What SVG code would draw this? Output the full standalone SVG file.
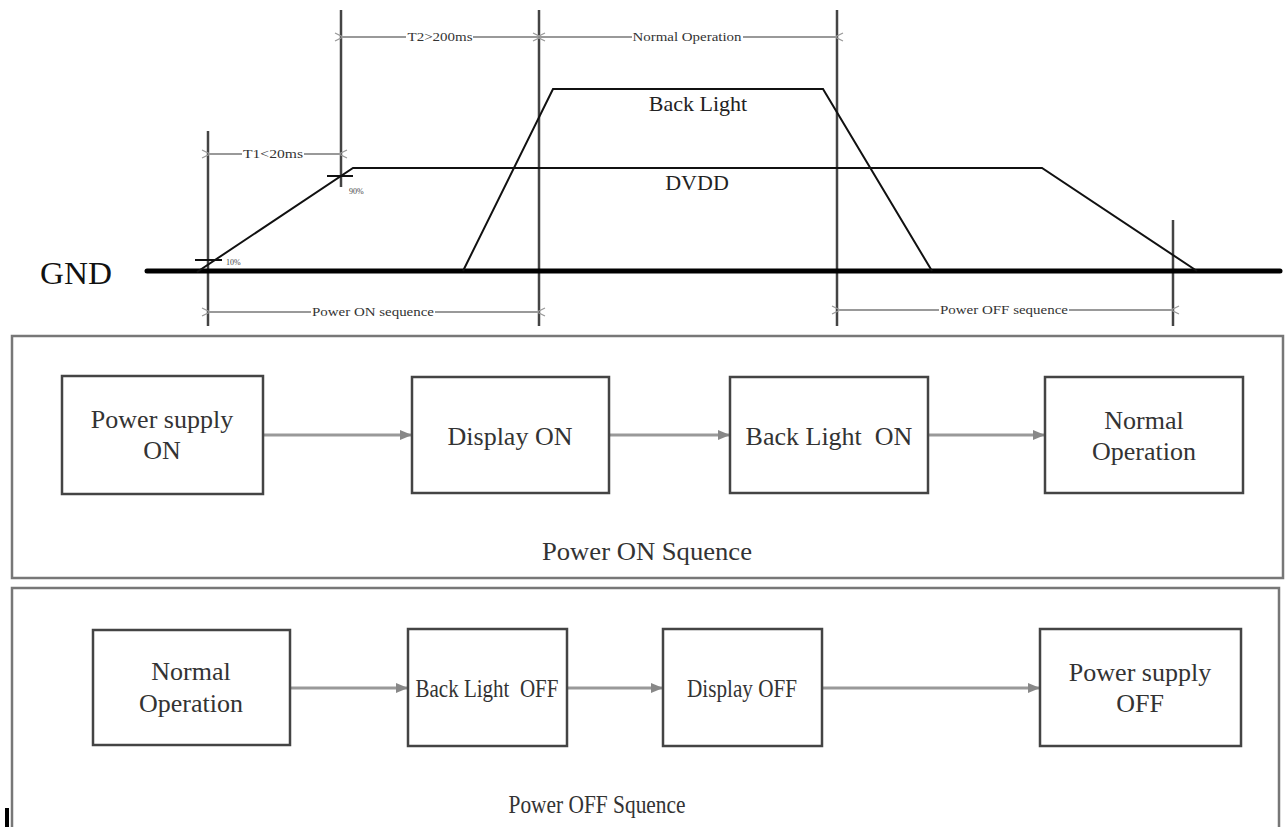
<svg xmlns="http://www.w3.org/2000/svg" width="1287" height="827" viewBox="0 0 1287 827">
<defs>
<style>
.vl{stroke:#444;stroke-width:2.5;fill:none}
.wf{stroke:#111;stroke-width:2;fill:none}
.dim{stroke:#999;stroke-width:2;fill:none;marker-start:url(#chev);marker-end:url(#chev)}
.dt{font-family:"Liberation Serif",serif;font-size:13px;fill:#333;text-anchor:middle}
.pct{font-family:"Liberation Serif",serif;font-size:8px;fill:#444}
.lbl{font-family:"Liberation Serif",serif;font-size:22px;fill:#222;text-anchor:middle}
.nt{font-family:"Liberation Serif",serif;font-size:26px;fill:#333;text-anchor:middle}
.node{fill:#fff;stroke:#444;stroke-width:2.5}
.frame{fill:none;stroke:#777;stroke-width:2.5}
.conn{stroke:#999;stroke-width:3;fill:none;marker-end:url(#tri)}
.wb{fill:#fff}
</style>
<marker id="chev" viewBox="0 0 10 10" refX="0" refY="5" markerWidth="10" markerHeight="10" markerUnits="userSpaceOnUse" orient="auto-start-reverse">
<path d="M8,1 L0,5 L8,9" fill="none" stroke="#999" stroke-width="1.2"/>
</marker>
<marker id="tri" viewBox="0 0 12 10" refX="11" refY="5" markerWidth="12" markerHeight="10" markerUnits="userSpaceOnUse" orient="auto">
<path d="M0,0 L12,5 L0,10 Z" fill="#888"/>
</marker>
</defs>
<rect width="1287" height="827" fill="#fff"/>

<g id="timing">
<line class="vl" x1="208" y1="131" x2="208" y2="326"/>
<line class="vl" x1="341" y1="10" x2="341" y2="187"/>
<line class="vl" x1="539" y1="10" x2="539" y2="326"/>
<line class="vl" x1="837" y1="10" x2="837" y2="326"/>
<line class="vl" x1="1173" y1="220" x2="1173" y2="326"/>
<line x1="147" y1="271" x2="1280" y2="271" stroke="#000" stroke-width="5" stroke-linecap="round"/>
<text x="40" y="284" font-family="Liberation Serif, serif" font-size="31" fill="#111" textLength="72" lengthAdjust="spacingAndGlyphs">GND</text>
<polyline class="wf" points="197,272 353,168 1042,168 1197,271"/>
<polyline class="wf" points="463,271 553,89 823,89 932,271"/>
<line x1="195" y1="260" x2="222" y2="260" stroke="#111" stroke-width="2"/>
<line x1="327" y1="176" x2="353" y2="176" stroke="#111" stroke-width="2"/>
<text class="pct" x="226" y="265">10%</text>
<text class="pct" x="349" y="194">90%</text>
<text class="lbl" x="698" y="111">Back Light</text>
<text class="lbl" x="697" y="190">DVDD</text>
</g>

<g id="dimensions">
<line class="dim" x1="210" y1="154" x2="339" y2="154"/>
<rect class="wb" x="242" y="147" width="62" height="14"/>
<text class="dt" x="273" y="158" textLength="60" lengthAdjust="spacingAndGlyphs">T1&lt;20ms</text>
<line class="dim" x1="343" y1="37" x2="537" y2="37"/>
<rect class="wb" x="406" y="30" width="67" height="14"/>
<text class="dt" x="440" y="41" textLength="65" lengthAdjust="spacingAndGlyphs">T2&gt;200ms</text>
<line class="dim" x1="541" y1="37" x2="835" y2="37"/>
<rect class="wb" x="632" y="30" width="111" height="14"/>
<text class="dt" x="687" y="41" textLength="109" lengthAdjust="spacingAndGlyphs">Normal Operation</text>
<line class="dim" x1="210" y1="312" x2="537" y2="312"/>
<rect class="wb" x="311" y="305" width="124" height="14"/>
<text class="dt" x="373" y="316" textLength="122" lengthAdjust="spacingAndGlyphs">Power ON sequence</text>
<line class="dim" x1="840" y1="310" x2="1171" y2="310"/>
<rect class="wb" x="939" y="303" width="130" height="14"/>
<text class="dt" x="1004" y="314" textLength="128" lengthAdjust="spacingAndGlyphs">Power OFF sequence</text>
</g>

<g id="frame-on">
<rect class="frame" x="12" y="336" width="1271" height="242"/>
<text class="nt" x="647" y="560" textLength="210" lengthAdjust="spacingAndGlyphs">Power ON Squence</text>
</g>
<g id="frame-off">
<path class="frame" d="M12,827 L12,588 L1279,588 L1279,827"/>
<text class="nt" x="597" y="813" textLength="177" lengthAdjust="spacingAndGlyphs">Power OFF Squence</text>
<rect x="5" y="808" width="4" height="19" fill="#000"/>
</g>

<g id="connectors">
<line class="conn" x1="263" y1="435" x2="411" y2="435"/>
<line class="conn" x1="609" y1="435" x2="729" y2="435"/>
<line class="conn" x1="928" y1="435" x2="1044" y2="435"/>
<line class="conn" x1="290" y1="688" x2="407" y2="688"/>
<line class="conn" x1="567" y1="688" x2="662" y2="688"/>
<line class="conn" x1="822" y1="688" x2="1039" y2="688"/>
</g>

<g id="n-power-on">
<rect class="node" x="62" y="376" width="201" height="118"/>
<text class="nt" x="162" y="428">Power supply</text>
<text class="nt" x="162" y="459">ON</text>
</g>
<g id="n-display-on">
<rect class="node" x="412" y="377" width="197" height="116"/>
<text class="nt" x="510" y="445">Display ON</text>
</g>
<g id="n-backlight-on">
<rect class="node" x="730" y="377" width="198" height="116"/>
<text class="nt" x="829" y="445" xml:space="preserve">Back Light  ON</text>
</g>
<g id="n-normal-on">
<rect class="node" x="1045" y="377" width="198" height="116"/>
<text class="nt" x="1144" y="429">Normal</text>
<text class="nt" x="1144" y="460">Operation</text>
</g>

<g id="n-normal-off">
<rect class="node" x="93" y="630" width="197" height="115"/>
<text class="nt" x="191" y="680">Normal</text>
<text class="nt" x="191" y="712">Operation</text>
</g>
<g id="n-backlight-off">
<rect class="node" x="408" y="629" width="159" height="117"/>
<text class="nt" x="487" y="697" xml:space="preserve" textLength="143" lengthAdjust="spacingAndGlyphs">Back Light  OFF</text>
</g>
<g id="n-display-off">
<rect class="node" x="663" y="629" width="159" height="117"/>
<text class="nt" x="742" y="697" textLength="110" lengthAdjust="spacingAndGlyphs">Display OFF</text>
</g>
<g id="n-power-off">
<rect class="node" x="1040" y="629" width="201" height="117"/>
<text class="nt" x="1140" y="681">Power supply</text>
<text class="nt" x="1140" y="712">OFF</text>
</g>
</svg>
